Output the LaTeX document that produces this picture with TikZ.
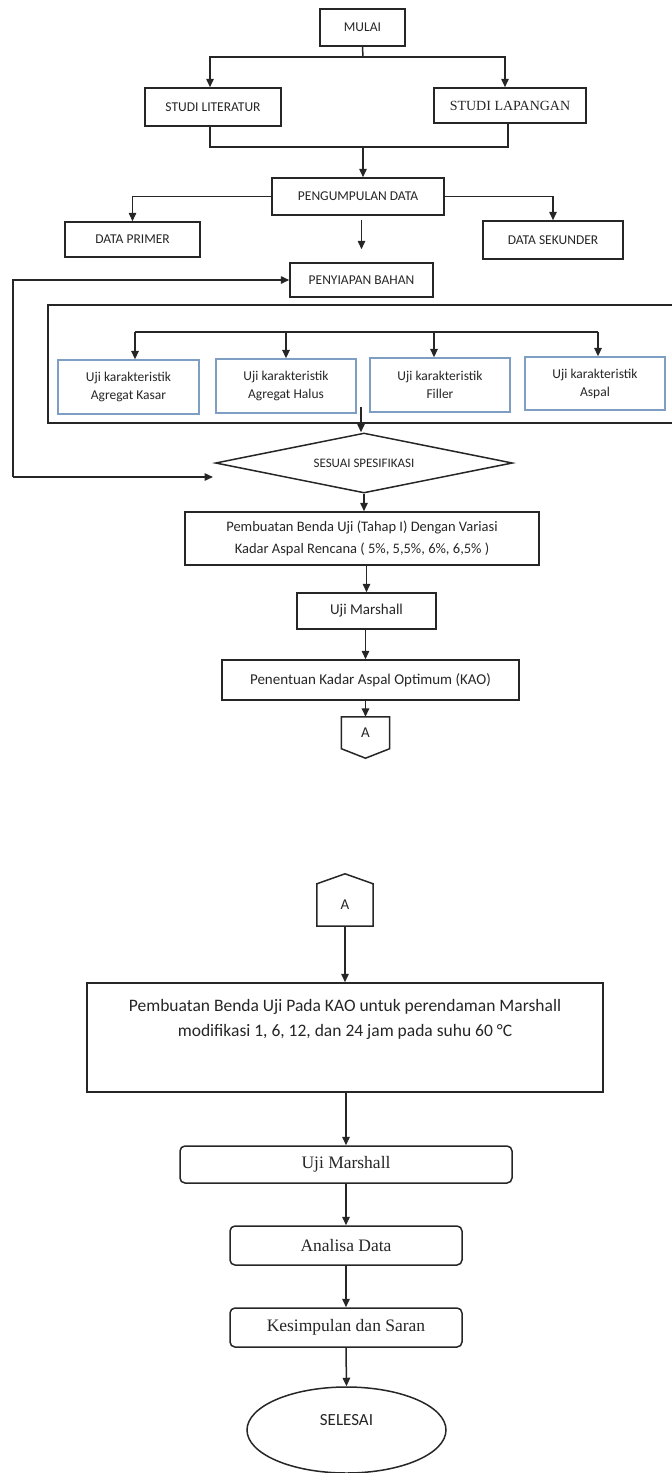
\documentclass[tikz,border=0pt]{standalone}
\usepackage{fontspec}
\setmainfont{Carlito}
\newfontfamily\tms{Liberation Serif}
\usetikzlibrary{shapes.geometric,arrows.meta,calc}
\definecolor{txt}{HTML}{262626}
\definecolor{kbd}{HTML}{7E9EC4}
\begin{document}
\begin{tikzpicture}[x=1pt,y=-1pt,
 box/.style={draw=black!85, line width=1.5pt, inner sep=0pt, align=center, text=txt},
 kbox/.style={draw=kbd, line width=1.3pt, inner sep=0pt, align=center, text=txt, font=\fontsize{13.5}{18}\selectfont},
 rbox/.style={box, rounded corners=5pt, font=\tms\fontsize{17.5}{20}\selectfont},
 ln/.style={draw=black!85, line width=1.5pt},
 arr/.style={ln, -{Triangle[width=7.5pt,length=8.5pt]}},
 capt/.style={font=\fontsize{13.5}{16}\selectfont},
]
\useasboundingbox (0,0) rectangle (672,1473);
% nodes
\node[box,capt,minimum width=85pt,minimum height=37pt] (mulai) at (362.5,27.5) {MULAI};
\node[box,capt,minimum width=136pt,minimum height=38pt] (lit) at (213,107) {STUDI LITERATUR};
\node[box,font=\tms\fontsize{14}{16}\selectfont,minimum width=152pt,minimum height=35pt] (lap) at (510,105.5) {STUDI LAPANGAN};
\node[box,capt,minimum width=172pt,minimum height=37pt] (peng) at (358,196.5) {PENGUMPULAN DATA};
\node[box,capt,minimum width=135pt,minimum height=35pt] (prim) at (132.5,239.5) {DATA PRIMER};
\node[box,capt,minimum width=140pt,minimum height=38pt] (sek) at (553,240) {DATA SEKUNDER};
\node[box,capt,minimum width=143pt,minimum height=34pt] (siap) at (361.5,280) {PENYIAPAN BAHAN};
\node[box,minimum width=642pt,minimum height=118pt] (panel) at (369,364) {};
\node[kbox,minimum width=141pt,minimum height=54pt] (k1) at (128.5,387) {Uji karakteristik\\Agregat Kasar};
\node[kbox,minimum width=140pt,minimum height=54pt] (k2) at (286,386) {Uji karakteristik\\Agregat Halus};
\node[kbox,minimum width=140pt,minimum height=54pt] (k3) at (440,385) {Uji karakteristik\\Filler};
\node[kbox,minimum width=140pt,minimum height=53pt] (k4) at (595,383.5) {Uji karakteristik\\Aspal};
\node[box,diamond,aspect=5,font=\fontsize{13}{16}\selectfont,minimum width=297pt,minimum height=60pt] (dia) at (364,463) {SESUAI SPESIFIKASI};
\node[box,font=\fontsize{14.5}{22}\selectfont,minimum width=354pt,minimum height=53pt] (t1) at (362,538.5) {Pembuatan Benda Uji (Tahap I) Dengan Variasi\\Kadar Aspal Rencana ( 5\%, 5,5\%, 6\%, 6,5\% )};
\node[box,font=\fontsize{15}{18}\selectfont,minimum width=139pt,minimum height=36pt] (um1) at (366.5,611) {Uji Marshall};
\node[box,font=\fontsize{15}{18}\selectfont,minimum width=297pt,minimum height=40pt] (kao) at (370.5,680) {Penentuan Kadar Aspal Optimum (KAO)};
\node[inner sep=0pt,minimum width=48pt,minimum height=31.5pt,text=txt,font=\fontsize{15}{18}\selectfont] (a1) at (365.5,732.75) {A};
\draw[ln] (a1.north west) -- (a1.north east) -- (a1.south east) -- ($(a1.south)+(0,9.5)$) -- (a1.south west) -- cycle;
\node[inner sep=0pt,minimum width=56pt,minimum height=42pt,text=txt,font=\fontsize{15}{18}\selectfont] (a2) at (345,905) {A};
\draw[ln] (a2.south west) -- (a2.north west) -- ($(a2.north)+(0,-10)$) -- (a2.north east) -- (a2.south east) -- cycle;
\node[box,font=\fontsize{17.5}{25}\selectfont,minimum width=516pt,minimum height=109pt,text depth=39pt] (b2) at (345,1037.5) {Pembuatan Benda Uji Pada KAO untuk perendaman Marshall\\modifikasi 1, 6, 12, dan 24 jam pada suhu 60 °C};
\node[rbox,minimum width=332pt,minimum height=37pt] (um2) at (346,1164.5) {Uji Marshall};
\node[rbox,minimum width=232pt,minimum height=39pt] (ana) at (346,1245.5) {Analisa Data};
\node[rbox,minimum width=232pt,minimum height=39pt] (kes) at (346,1327.5) {Kesimpulan dan Saran};
\node[box,ellipse,font=\fontsize{17}{20}\selectfont,minimum width=199pt,minimum height=86pt,text depth=20pt] (sel) at (346.5,1430) {SELESAI};
% coordinates
\coordinate (mj) at (363,57);
\coordinate (xl) at (210,0);
\coordinate (xr) at (505,0);
\coordinate (xr2) at (508,0);
\coordinate (jj) at (363,147);
\coordinate (lb) at (13,477);
\coordinate (le) at (213,477);
\coordinate (p1) at (135,332);
\coordinate (p2) at (286,332);
\coordinate (p3) at (434,332);
\coordinate (p4) at (598,332);
\coordinate (pd) at (361,407);
% connectors
\draw[ln] (mulai.south) -- (mj);
\draw[arr] (mj) -| (xl |- lit.north);
\draw[arr] (mj) -| (xr |- lap.north);
\draw[ln] (xl |- lit.south) |- (jj);
\draw[ln] (xr2 |- lap.south) |- (jj);
\draw[arr] (jj) -- (jj |- peng.north);
\draw[arr] (peng.west) -| (prim.north);
\draw[arr] (peng.east) -| (sek.north);
\draw[arr,shorten <=4pt,shorten >=13pt] (siap.north |- peng.south) -- (siap.north);
\draw[arr] (lb) |- (siap.west);
\draw[arr] (lb) -- (le);
\draw[ln] (p1) -- (p4);
\draw[arr] (p1) -- (p1 |- k1.north);
\draw[arr] (p2) -- (p2 |- k2.north);
\draw[arr] (p3) -- (p3 |- k3.north);
\draw[arr] (p4) -- (p4 |- k4.north);
\draw[arr] (pd) -- (pd |- dia.north);
\draw[arr] (dia.south) -- (dia.south |- t1.north);
\draw[arr] (um1.north |- t1.south) -- (um1.north);
\draw[arr] (a1.north |- um1.south) -- (a1.north |- kao.north);
\draw[arr] (a1.north |- kao.south) -- (a1.north);
\draw[arr] (a2.south) -- (a2.south |- b2.north);
\draw[arr] (um2.north |- b2.south) -- (um2.north);
\draw[arr] (um2.south) -- (ana.north);
\draw[arr] (ana.south) -- (kes.north);
\draw[arr] (kes.south) -- (sel.north);
\end{tikzpicture}
\end{document}
